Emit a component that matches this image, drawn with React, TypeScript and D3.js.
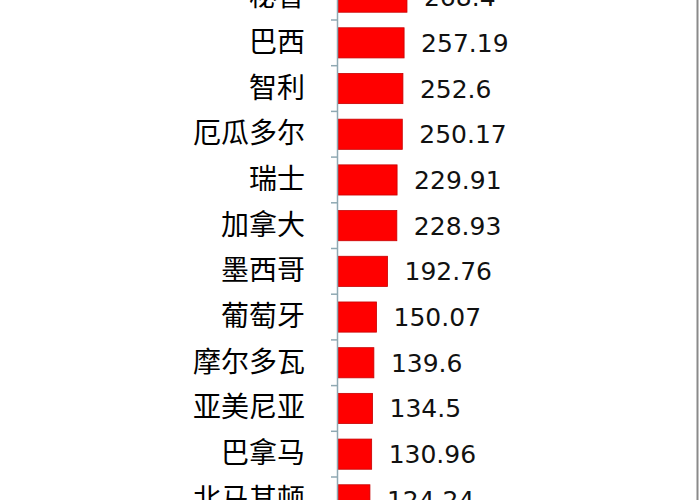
import { useEffect, useRef } from "react"
import * as d3 from 'd3';

// visible rows of the chart, top to bottom
const countries = ["秘鲁", "巴西", "智利", "厄瓜多尔", "瑞士", "加拿大", "墨西哥", "葡萄牙", "摩尔多瓦", "亚美尼亚", "巴拿马", "北马其顿"]
const values = [268.4, 257.19, 252.6, 250.17, 229.91, 228.93, 192.76, 150.07, 139.6, 134.5, 130.96, 124.24]
const valueLabels = ["268.4", "257.19", "252.6", "250.17", "229.91", "228.93", "192.76", "150.07", "139.6", "134.5", "130.96", "124.24"]

const App = () => {
    const svgRef = useRef<SVGSVGElement>(null);

    useEffect(() => {
        const width = 700
        const height = 500
        const axisX = 337
        const svg = d3.select(svgRef.current)
            .attr("width", width)
            .attr("height", height)
            .style('background', '#fff')
        svg.selectAll("*").remove()

        // scales
        const xScale = d3.scaleLinear()
            .domain([0, 100])
            .range([axisX, axisX + 25.7])
        const yScale = d3.scaleBand()
            .domain(countries)
            .range([-25.7, -25.7 + 45.7 * countries.length])
            .paddingInner(0.34)
            .paddingOuter(0.17)

        // bars
        svg.selectAll('.bar')
            .data(values)
            .join('rect')
            .attr('class', 'bar')
            .attr('x', xScale(0) + 1)
            .attr('y', (_, i) => yScale(countries[i])!)
            .attr('width', d => xScale(d) - xScale(0))
            .attr('height', yScale.bandwidth())
            .attr('fill', '#ff0000')
            .attr('stroke', '#c80000')
            .attr('stroke-width', 0.8)

        // category axis
        const step = yScale.step()
        const yAxis = d3.axisLeft(yScale).tickSize(0).tickPadding(32).tickFormat(d => d)
        const g = svg.append('g')
            .attr('transform', `translate(${axisX},0)`)
            .call(yAxis)
        g.select('.domain').attr('stroke', '#8fa9b3').attr('stroke-width', 1.5)
        g.selectAll('text')
            .attr('fill', '#000')
            .style('font-family', '"Noto Sans CJK SC", sans-serif')
            .style('font-size', '28px')
        // tick marks at band boundaries
        g.selectAll('.sep')
            .data(countries)
            .join('line')
            .attr('class', 'sep')
            .attr('x1', -6)
            .attr('x2', 0)
            .attr('y1', d => yScale(d)! - yScale.paddingInner() * step / 2)
            .attr('y2', d => yScale(d)! - yScale.paddingInner() * step / 2)
            .attr('stroke', '#8fa9b3')
            .attr('stroke-width', 1.5)

        // value labels
        svg.selectAll('.val')
            .data(values)
            .join('text')
            .attr('class', 'val')
            .attr('x', d => xScale(d) + 18)
            .attr('y', (_, i) => yScale(countries[i])! + yScale.bandwidth() / 2)
            .attr('dy', '0.36em')
            .attr('fill', '#111')
            .style('font-family', '"DejaVu Sans", sans-serif')
            .style('font-size', '25px')
            .text((_, i) => valueLabels[i])

        // right border of the picture
        svg.append('line')
            .attr('x1', 697.5).attr('x2', 697.5)
            .attr('y1', 0).attr('y2', height)
            .attr('stroke', '#8a8a8a')
            .attr('stroke-width', 2)
    }, [])

    return (
        <svg ref={svgRef} style={{ position: 'absolute', left: 0, top: 0, display: 'block' }}></svg>
    )
}

export default App
